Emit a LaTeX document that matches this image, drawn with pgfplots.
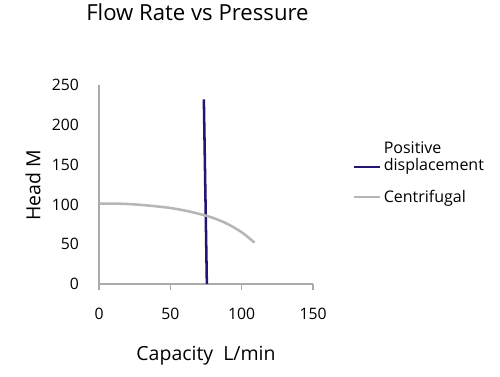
\documentclass[border=0pt]{standalone}
\usepackage{pgfplots}
\pgfplotsset{compat=1.18}
\usepackage{fontspec}
\setmainfont{Open Sans}
\definecolor{pdcol}{RGB}{33,22,112}
\definecolor{cfcol}{RGB}{182,182,182}
\definecolor{axcol}{RGB}{170,170,170}
\begin{document}
\begin{tikzpicture}
\path[use as bounding box] (0,0) rectangle (375pt,282.75pt);
\begin{axis}[
  scale only axis,
  width=160.5pt, height=149.25pt,
  at={(74.25pt,69.75pt)}, anchor=south west,
  xmin=0, xmax=150, ymin=0, ymax=250,
  xtick={0,50,100,150}, ytick={0,50,100,150,200,250},
  axis x line*=bottom, axis y line*=left,
  axis line style={axcol, line width=0.8pt, -},
  x axis line style={-}, y axis line style={-},
  xtick style={axcol, line width=0.8pt},
  ytick style={draw=none},
  tick align=outside,
  major tick length=4.5pt,
  /pgf/number format/assume math mode=true,
  tick label style={font=\fontsize{11.8}{13}\selectfont, text=black},
  xticklabel style={yshift=-10pt},
  yticklabel style={xshift=-7pt},
  title={Flow Rate vs Pressure},
  title style={at={(rel axis cs:0.46,1.327)}, anchor=center, font=\fontsize{16.6}{20}\selectfont},
  xlabel={Capacity\ \ L/min},
  ylabel={Head M},
  label style={font=\fontsize{14.6}{17}\selectfont},
  xlabel style={at={(rel axis cs:0.50,-0.36)}, anchor=center},
  ylabel style={at={(rel axis cs:-0.308,0.497)}, anchor=center, rotate=0},
  legend style={at={(rel axis cs:1.165,0.75)}, anchor=north west, draw=none, fill=none,
    font=\fontsize{12}{14}\selectfont, row sep=9pt},
  legend cell align=left,
  legend image code/.code={\draw[#1] (0cm,0cm) -- (0.53cm,0cm); \path (0.53cm,0cm) -- (0.7cm,0cm);},
  legend image post style={line width=1.5pt},
  clip=false,
]
\addplot[pdcol, line width=1.9pt, legend image post style={line width=1.5pt, yshift=-7.5pt}] coordinates {(73.5,232) (75.6,0)};
\addlegendentry{\begin{tabular}[b]{@{}l@{}}Positive\\[-1pt]displacement\end{tabular}}
\addplot[cfcol, line width=1.9pt, smooth] coordinates {
 (0,101) (10,101) (20,100.5) (30,99.3) (40,97.6) (50,95.5) (60,92.3) (70,88.2)
 (80,83) (90,75.5) (100,65) (109,52)};
\addlegendentry{Centrifugal}
\end{axis}
\end{tikzpicture}
\end{document}
